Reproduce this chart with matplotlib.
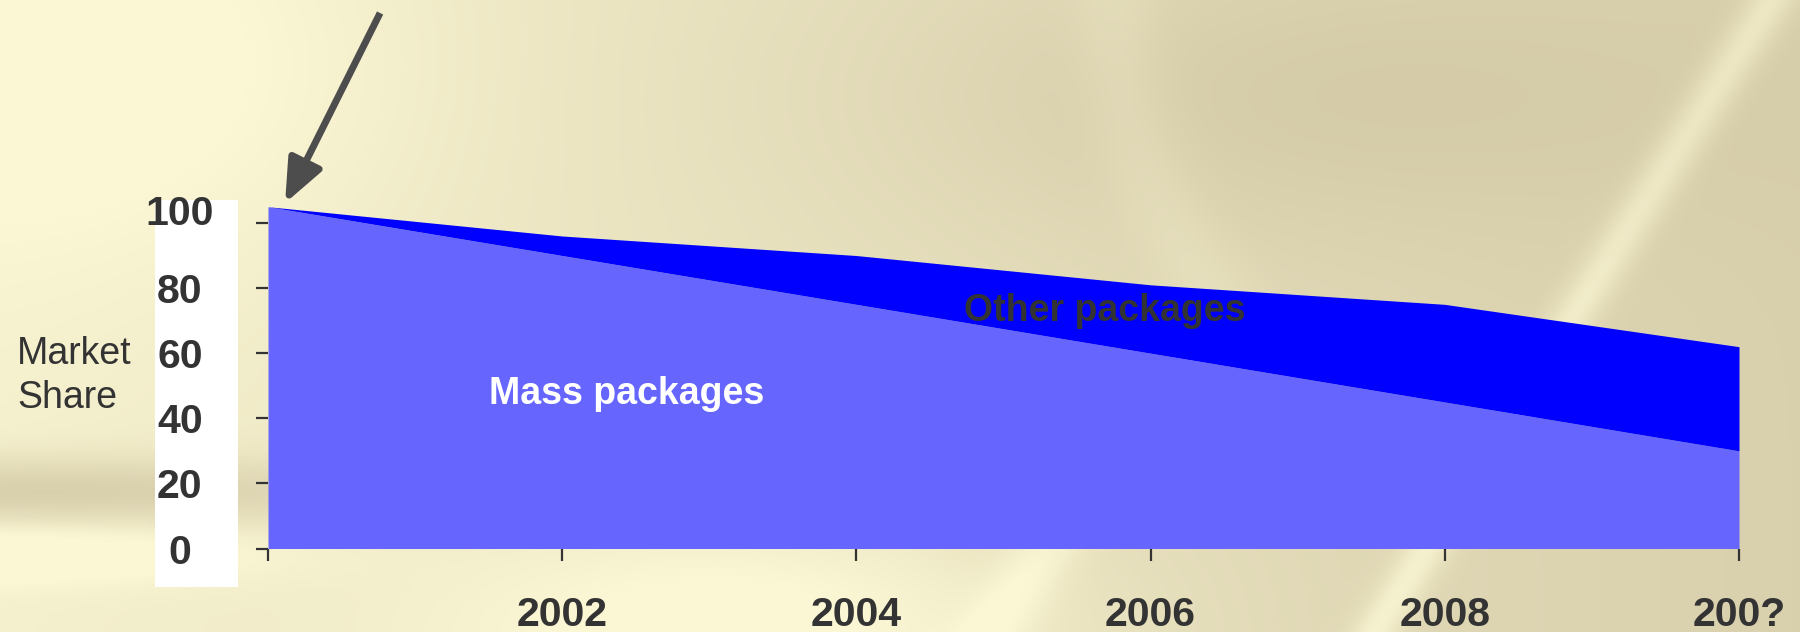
import numpy as np
import matplotlib.pyplot as plt
from matplotlib.patches import Rectangle
from matplotlib.transforms import ScaledTranslation

plt.rcParams['font.family'] = ['Liberation Sans', 'DejaVu Sans']

# Values (market share, %)
periods = ['', '2002', '2004', '2006', '2008', '200?']
mass_share = [105, 90, 75, 60, 45, 30]
other_share = [0, 6, 15, 21, 30, 32]
y_ticks = [0, 20, 40, 60, 80, 100]

TXT = '#333333'
MASS_COLOR = '#6666FF'
OTHER_COLOR = '#0000FF'
W, H = 1800, 632


def background(h=158, w=450):
    """Cream / gold slide backdrop."""
    yy, xx = np.mgrid[0:1:h * 1j, 0:1:w * 1j]
    light = np.array([251, 247, 212]) / 255
    dark = np.array([196, 184, 150]) / 255
    t = 0.12 + 0.5 * xx
    t -= 0.25 * np.exp(-((xx - 0.05) ** 2 / 0.03 + (yy - 0.1) ** 2 / 0.1))
    t += 0.2 * np.exp(-((xx - 0.7) ** 2 / 0.06 + (yy - 0.15) ** 2 / 0.06))
    t += 0.5 * np.exp(-(yy - 0.78) ** 2 / 0.003) * np.exp(-xx ** 2 / 0.05)
    t -= 0.35 * np.exp(-(yy - 0.88) ** 2 / 0.002) * np.exp(-xx ** 2 / 0.02)
    t -= 0.4 * np.exp(-((xx - 0.42) ** 2 / 0.03 + (yy - 1.0) ** 2 / 0.03))
    t -= 0.4 * np.exp(-(xx - (0.985 - 0.22 * yy)) ** 2 / 0.0002)
    t -= 0.25 * np.exp(-(xx - (0.80 - 0.25 * yy)) ** 2 / 0.0004) * (yy > 0.55)
    t -= 0.12 * np.exp(-(xx - (0.62 + 0.25 * yy ** 2)) ** 2 / 0.0006) * (yy < 0.5)
    t = np.clip(t, 0, 1)[..., None]
    return light * (1 - t) + dark * t


fig = plt.figure(figsize=(W / 100, H / 100), dpi=100)

bg = fig.add_axes([0, 0, 1, 1], zorder=-2)
bg.imshow(background(), aspect='auto', interpolation='bilinear', extent=[0, 1, 0, 1])
bg.axis('off')

# white strip behind the y tick labels
fig.patches.append(Rectangle((155 / W, (H - 587) / H), 83 / W, 387 / H,
                             transform=fig.transFigure, facecolor='white',
                             edgecolor='none', zorder=-1))

ax = fig.add_axes([268 / W, (H - 548.5) / H, (1739 - 268) / W, (548.5 - 206.7) / H])
ax.patch.set_alpha(0)

x = np.arange(len(periods))
mass = np.array(mass_share)
total = mass + np.array(other_share)
ax.fill_between(x, 0, mass, color=MASS_COLOR, lw=0)
ax.fill_between(x, mass, total, color=OTHER_COLOR, lw=0)

ax.set_xlim(0, len(periods) - 1)
ax.set_ylim(0, 105)
for s in ax.spines.values():
    s.set_visible(False)

ax.set_xticks(x)
ax.set_xticklabels(periods, fontsize=29.5, fontweight='bold', color=TXT)
ax.set_yticks(y_ticks)
ax.set_yticklabels([str(v) for v in y_ticks], fontsize=29.5, fontweight='bold',
                   color=TXT, ha='center')
ax.tick_params(axis='both', direction='out', length=8.5, width=1.6, color=TXT)
ax.tick_params(axis='x', pad=26)
ax.tick_params(axis='y', pad=55)

# the top label sits a little above its tick in the original
top_lbl = ax.get_yticklabels()[-1]
top_lbl.set_transform(top_lbl.get_transform()
                      + ScaledTranslation(0, 0.13, fig.dpi_scale_trans))

ax.text(1.22, 47.5, 'Mass packages', fontsize=27, fontweight='bold',
        color='white', ha='center', va='center')
ax.text(2.845, 73, 'Other packages', fontsize=27, fontweight='bold',
        color=TXT, ha='center', va='center')

fig.text(17 / W, (H - 376) / H, 'Market\nShare', fontsize=27, color=TXT,
         ha='left', va='center', linespacing=1.3)

ax.annotate('', xy=(0.058, 106.1), xytext=(0.381, 164.5),
            arrowprops=dict(arrowstyle='-|>,head_length=1.2,head_width=0.5',
                            lw=5, color='#4d4d4d', mutation_scale=22,
                            shrinkA=0, shrinkB=0, capstyle='butt'),
            annotation_clip=False)

fig.savefig('out.png', dpi=100)
